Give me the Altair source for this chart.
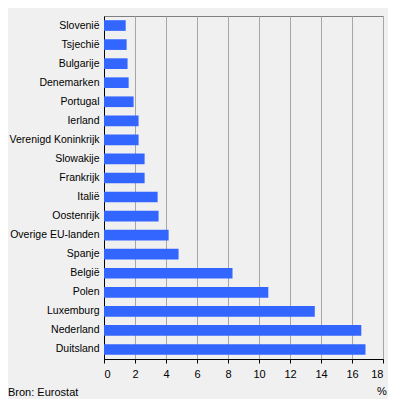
import altair as alt
import pandas as pd

countries = ["Slovenië", "Tsjechië", "Bulgarije", "Denemarken", "Portugal", "Ierland",
             "Verenigd Koninkrijk", "Slowakije", "Frankrijk", "Italië", "Oostenrijk",
             "Overige EU-landen", "Spanje", "België", "Polen", "Luxemburg", "Nederland", "Duitsland"]
values = [1.40, 1.46, 1.52, 1.59, 1.91, 2.23, 2.23, 2.62, 2.62, 3.46, 3.52,
          4.17, 4.81, 8.29, 10.6, 13.6, 16.6, 16.87]
x_ticks = [0, 2, 4, 6, 8, 10, 12, 14, 16, 18]

df = pd.DataFrame({"land": countries, "pct": values})
FONT = "Liberation Sans"

bars = alt.Chart(df).mark_bar(color="#3366FF").encode(
    x=alt.X("pct:Q", scale=alt.Scale(domain=[0, 18], nice=False),
            axis=alt.Axis(values=x_ticks, title=None, grid=True, gridColor="#A6A6A6",
                          domainColor="#000000", tickColor="#000000", tickSize=4,
                          labelFontSize=11, labelFont=FONT, labelColor="#000000",
                          labelPadding=5)),
    y=alt.Y("land:N", sort=countries,
            scale=alt.Scale(paddingInner=0.44, paddingOuter=0.22),
            axis=alt.Axis(title=None, ticks=False, domainColor="#000000",
                          labelFontSize=10.5, labelFont=FONT, labelColor="#000000",
                          labelPadding=5, labelLimit=200)),
)

src = alt.Chart(pd.DataFrame({"t": ["Bron: Eurostat"]})).mark_text(
    align="left", baseline="alphabetic", fontSize=11, font=FONT, color="#000000"
).encode(text="t:N", x=alt.value(-96), y=alt.value(380))

pct = alt.Chart(pd.DataFrame({"t": ["%"]})).mark_text(
    align="center", baseline="alphabetic", fontSize=11, font=FONT, color="#000000"
).encode(text="t:N", x=alt.value(278), y=alt.value(379))

chart = alt.layer(bars, src, pct).properties(
    width=279, height=343,
    background="#F0F0F0",
    autosize=alt.AutoSizeParams(type="none"),
    padding={"left": 96, "top": 8, "right": 5, "bottom": 40},
).configure_view(stroke="#808080", strokeWidth=1)

chart.save("out.html", embed_options={"renderer": "svg", "actions": False})
